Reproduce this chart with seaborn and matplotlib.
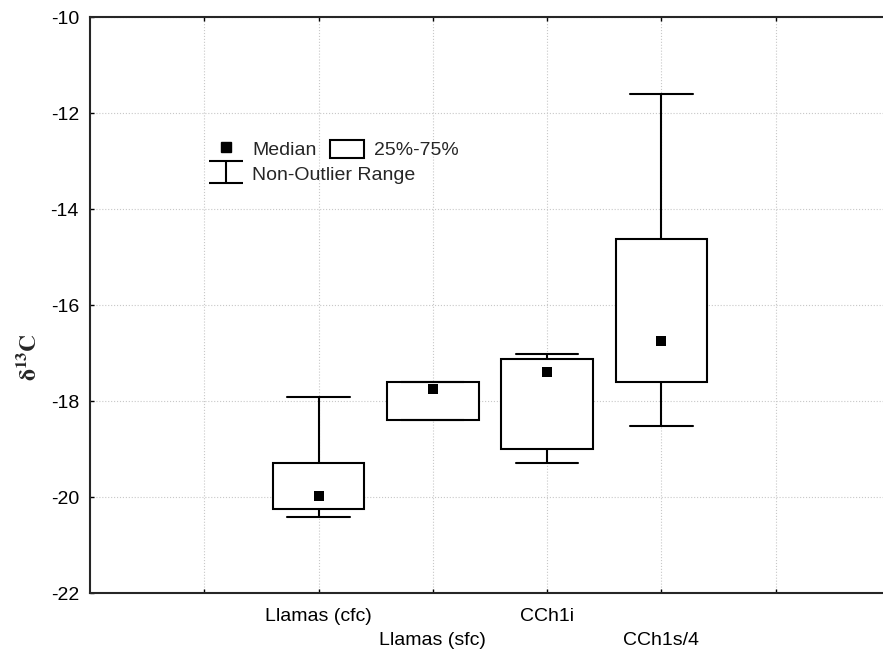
import matplotlib
matplotlib.use("Agg")
import matplotlib.pyplot as plt
from matplotlib.lines import Line2D
from matplotlib.patches import Patch
from matplotlib.path import Path
import pandas as pd
import seaborn as sns

groups = ["Llamas (cfc)", "Llamas (sfc)", "CCh1i", "CCh1s/4"]
whisker_low = [-20.41, -18.40, -19.29, -18.53]
q1 = [-20.24, -18.40, -19.00, -17.60]
median = [-19.98, -17.75, -17.39, -16.74]
q3 = [-19.29, -17.60, -17.125, -14.63]
whisker_high = [-17.92, -17.60, -17.03, -11.60]

# five points per group -> quartiles land exactly on the read values
rows = []
for i, g in enumerate(groups):
    for v in (whisker_low[i], q1[i], median[i], q3[i], whisker_high[i]):
        rows.append((g, v))
df = pd.DataFrame(rows, columns=["group", "d13C"])
med_df = pd.DataFrame({"group": groups, "d13C": median})

sns.set_style("ticks")
plt.rcParams["font.family"] = ["Liberation Sans", "DejaVu Sans"]
plt.rcParams["mathtext.fontset"] = "stix"
plt.rcParams["axes.unicode_minus"] = False

fig = plt.figure(figsize=(8.83, 6.53), dpi=100)
ax = fig.add_axes([90 / 883, 60 / 653, 793 / 883, 576 / 653])

sns.boxplot(data=df, x="group", y="d13C", order=groups, whis=(0, 100),
            width=0.8, color="white", linecolor="black", linewidth=1.5,
            saturation=1, medianprops={"visible": False}, capwidths=0.55,
            ax=ax)
sns.stripplot(data=med_df, x="group", y="d13C", order=groups, jitter=False,
              marker="s", size=7, color="black", zorder=5, ax=ax)

ax.set_xlim(-2, 4.94)
ax.set_xticks(range(-1, 5))
ax.set_xticklabels(["", groups[0], "\n" + groups[1], groups[2], "\n" + groups[3], ""])
for t in ax.get_xticklabels():
    t.set_linespacing(1.6)
ax.set_ylim(-22, -10)
ax.set_yticks(range(-22, -9, 2))
ax.grid(True, linestyle=":", color="#c8c8c8", linewidth=0.8)
ax.tick_params(direction="in", length=3, width=1, top=True, labelsize=14, colors="black")
ax.tick_params(axis="x", pad=10.5)
ax.tick_params(axis="y", pad=8)
for s in ["left", "bottom", "top"]:
    ax.spines[s].set_linewidth(1.5)
ax.spines["right"].set_visible(False)
ax.set_xlabel("")
ax.set_ylabel(r"$\mathbf{\delta^{13}C}$", fontsize=17)
ax.yaxis.set_label_coords(-0.062, 0.41)

ibeam = Path([(-1, 0.62), (1, 0.62), (0, 0.62), (0, -0.62), (-1, -0.62), (1, -0.62)],
             [Path.MOVETO, Path.LINETO, Path.MOVETO, Path.LINETO, Path.MOVETO, Path.LINETO])
median_handle = Line2D([], [], marker="s", color="black", linestyle="none", markersize=7)
box_handle = Patch(facecolor="white", edgecolor="black", linewidth=1.5)
range_handle = Line2D([], [], marker=ibeam, color="black", linestyle="none", markersize=25,
                      markerfacecolor="none", markeredgewidth=1.5)

leg_kw = dict(frameon=False, loc="upper left", bbox_transform=fig.transFigure,
              borderpad=0, handlelength=1.75, handleheight=1.03,
              handletextpad=0.5, columnspacing=0.7, fontsize=14)
leg1 = ax.legend([median_handle, box_handle], ["Median", "25%-75%"], ncol=2,
                 bbox_to_anchor=(199 / 883, 1 - 130 / 653), **leg_kw)
ax.add_artist(leg1)
ax.legend([range_handle], ["Non-Outlier Range"],
          bbox_to_anchor=(199 / 883, 1 - 155 / 653), **leg_kw)

fig.savefig("out.png", dpi=100)
